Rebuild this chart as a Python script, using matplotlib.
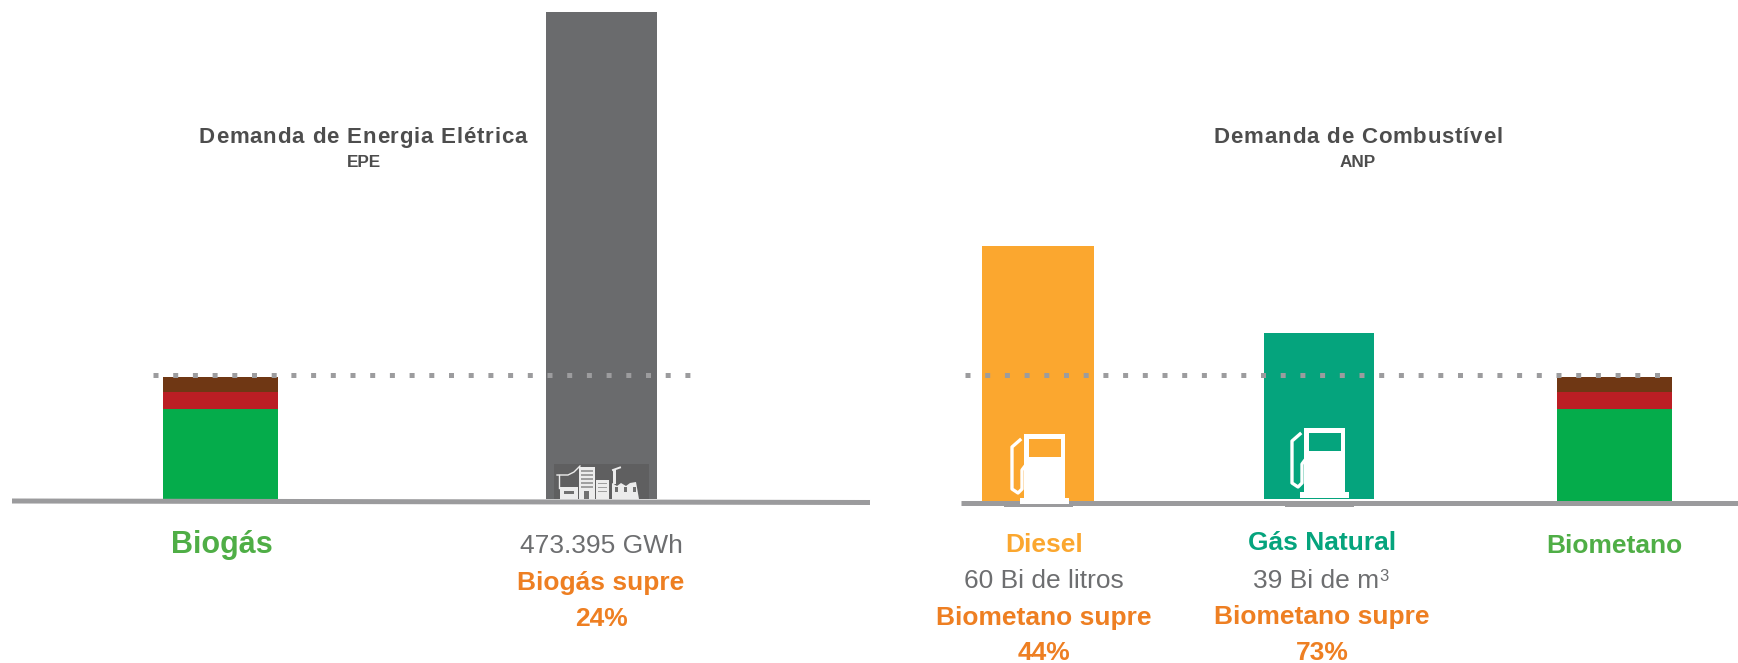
import matplotlib.pyplot as plt
from matplotlib.patches import Polygon, Rectangle

plt.rcParams["font.family"] = ["Liberation Sans", "DejaVu Sans"]

W, H = 1738, 663

### data
electric_demand = 473395  # GWh
biogas_parts = [87500, 16500, 14600]  # GWh, green / red / brown
diesel_demand = 60  # Bi de litros
gas_demand = 39  # Bi de m3
biomethane_parts = [21.6, 4.0, 3.5]  # Bi, green / red / brown

part_colors = ["#05ac4b", "#bb1e24", "#6f3714"]
GREY = "#6a6b6d"
ORANGE = "#ee7f22"
DIESEL = "#fba72f"
GAS = "#05a47d"
GREEN_TXT = "#4fae46"
TXT_GREY = "#6d6e70"
DARK_TXT = "#4d4d4d"
LINE = "#9b9b9d"


def px_axes(fig, x0, x1, base_y):
    # axes whose x is in figure pixels and whose bottom sits on the baseline
    ax = fig.add_axes([x0 / W, 1 - base_y / H, (x1 - x0) / W, base_y / H])
    ax.set_xlim(x0, x1)
    ax.axis("off")
    return ax


def stacked(ax, left, right, parts):
    bottom = 0
    for val, col in zip(parts, part_colors):
        ax.bar(left, val, width=right - left, bottom=bottom, align="edge", color=col, lw=0)
        bottom += val


def pump(ov, x, y, bg):
    # x, y = top left corner of the pump body
    ov.add_patch(Rectangle((x, y), 40.5, 64, color="white", lw=0, zorder=6))
    ov.add_patch(Rectangle((x + 4.5, y + 5), 32, 17.5, color=bg, lw=0, zorder=7))
    ov.add_patch(Rectangle((x - 4, y + 64), 48.5, 6, color="white", lw=0, zorder=6))
    hose_x = [-4, -12, -12, -6, -2, -2, 1]
    hose_y = [6, 13, 55, 59, 55, 36, 32]
    ov.plot([x + v for v in hose_x], [y + v for v in hose_y], color="white", lw=2.4, zorder=6)


def city(ov):
    # small white skyline at the foot of the grey bar
    ov.add_patch(Rectangle((554, 464), 95, 35, color="#5f5f60", lw=0, zorder=3))
    white = dict(color="#ececec", lw=0, zorder=4)
    dark = dict(color="#a0a0a0", lw=0, zorder=5)
    ov.add_patch(Rectangle((560, 487), 18, 12, **white))
    ov.add_patch(Rectangle((579, 467), 16, 32, **white))
    ov.add_patch(Rectangle((596, 480), 13, 19, **white))
    ov.add_patch(Polygon([(612, 499), (612, 483), (617, 486), (621, 483), (626, 486), (630, 483),
                          (636, 482), (639, 499)], **white))
    ov.add_patch(Rectangle((613, 470), 3, 14, **white))
    ov.plot([613, 620], [470, 467.5], color="#ececec", lw=1.4, zorder=4)
    ov.plot([557, 568, 574, 580], [475, 475, 472, 466], color="#ececec", lw=1, zorder=4)
    ov.plot([559, 559], [475, 488], color="#ececec", lw=1, zorder=4)
    for y in range(470, 490, 4):
        ov.add_patch(Rectangle((581, y), 12, 1.6, **dark))
    for y in range(483, 493, 4):
        ov.add_patch(Rectangle((598, y), 9, 1.4, **dark))
    for x in (615, 624, 633):
        ov.add_patch(Rectangle((x, 487), 3, 5, color="#707070", lw=0, zorder=5))
    ov.add_patch(Rectangle((564, 491), 10, 3, color="#707070", lw=0, zorder=5))
    ov.add_patch(Rectangle((584, 491), 5, 8, color="#707070", lw=0, zorder=5))


def spaced_text(ov, fig, cx, y, s, track, **kw):
    # matplotlib has no letter spacing, so place the letters one by one
    rend = fig.canvas.get_renderer()
    probe = ov.text(0, 0, s, **kw)
    total = probe.get_window_extent(rend).width + track * (len(s) - 1)
    x0 = cx - total / 2
    for i, ch in enumerate(s):
        probe.set_text(s[: i + 1])
        end = probe.get_window_extent(rend).width
        probe.set_text(ch)
        own = probe.get_window_extent(rend).width if ch != " " else 0
        ov.text(x0 + end - own + track * i, y, ch, ha="left", **kw)
    probe.remove()


def main():
    fig = plt.figure(figsize=(W / 100, H / 100), dpi=100, facecolor="white")

    # left panel, GWh
    ax1 = px_axes(fig, 0, 869, 499)
    ax1.set_ylim(0, electric_demand * 499 / 487)
    stacked(ax1, 163, 278, biogas_parts)
    ax1.bar(546, electric_demand, width=111, align="edge", color=GREY, lw=0)

    # right panel, Bi
    ax2 = px_axes(fig, 869, W, 501)
    ax2.set_ylim(0, 501 / 4.25)
    ax2.bar(982, diesel_demand, width=112, align="edge", color=DIESEL, lw=0)
    ax2.bar(1264, gas_demand, width=110, bottom=0.47, align="edge", color=GAS, lw=0)
    stacked(ax2, 1557, 1672, biomethane_parts)

    # overlay in pixel coordinates: baselines, dotted level, icons and texts
    ov = fig.add_axes([0, 0, 1, 1], zorder=5)
    ov.set_xlim(0, W)
    ov.set_ylim(H, 0)
    ov.axis("off")

    ov.plot([12, 870], [501, 502.5], color=LINE, lw=3.6, solid_capstyle="butt", zorder=2)
    ov.plot([961, W], [503, 503], color=LINE, lw=3.6, solid_capstyle="butt", zorder=2)
    ov.add_patch(Rectangle((1004, 503), 69, 4, color=LINE, lw=0, zorder=2))
    ov.add_patch(Rectangle((1285, 503), 69, 4, color=LINE, lw=0, zorder=2))

    for x0, x1 in [(153, 692), (965, 1662)]:
        ov.plot([x0, x1], [375, 375], color="#9c9c9e", lw=3.6, zorder=3,
                linestyle=(0, (1.0, 2.94)), dash_capstyle="butt")

    city(ov)
    pump(ov, 1024, 434, DIESEL)
    pump(ov, 1304, 428, GAS)

    title_kw = dict(color=DARK_TXT, fontsize=16, fontweight="bold", va="baseline")
    spaced_text(ov, fig, 363, 143, "Demanda de Energia Elétrica", 0.85, **title_kw)
    spaced_text(ov, fig, 1358, 143, "Demanda de Combustível", 0.85, **title_kw)
    ov.text(364, 167, "EPE", color=DARK_TXT, fontsize=12.3, fontweight="bold", ha="center", va="baseline")
    ov.text(1358, 167, "ANP", color=DARK_TXT, fontsize=12.3, fontweight="bold", ha="center", va="baseline")

    bold = dict(fontweight="bold", ha="center", va="baseline")
    plain = dict(ha="center", va="baseline")

    ov.text(222, 553, "Biogás", color=GREEN_TXT, fontsize=22, **bold)
    ov.text(601, 553, "473.395 GWh", color=TXT_GREY, fontsize=19, **plain)
    ov.text(601, 590, "Biogás supre", color=ORANGE, fontsize=19, **bold)
    ov.text(601, 626, "24%", color=ORANGE, fontsize=19, **bold)

    ov.text(1044, 552, "Diesel", color=DIESEL, fontsize=19, **bold)
    ov.text(1044, 588, "60 Bi de litros", color=TXT_GREY, fontsize=19, **plain)
    ov.text(1044, 625, "Biometano supre", color=ORANGE, fontsize=19, **bold)
    ov.text(1044, 660, "44%", color=ORANGE, fontsize=19, **bold)

    ov.text(1322, 550, "Gás Natural", color=GAS, fontsize=19, **bold)
    ov.text(1316.5, 588, "39 Bi de m", color=TXT_GREY, fontsize=19, **plain)
    ov.text(1384, 581, "3", color=TXT_GREY, fontsize=12, **plain)
    ov.text(1322, 624, "Biometano supre", color=ORANGE, fontsize=19, **bold)
    ov.text(1322, 660, "73%", color=ORANGE, fontsize=19, **bold)

    ov.text(1614, 553, "Biometano", color=GREEN_TXT, fontsize=19, **bold)

    fig.savefig("out.png", dpi=100)


if __name__ == "__main__":
    main()
